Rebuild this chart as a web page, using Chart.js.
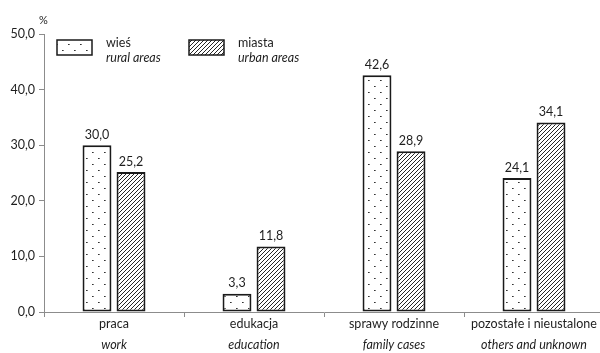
<!DOCTYPE html>
<html>
<head>
<meta charset="utf-8">
<script src="https://cdn.jsdelivr.net/npm/chart.js@4"></script>
<style>
  html, body { margin: 0; padding: 0; background: #fff; overflow: hidden; }
  #wrap { width: 600px; height: 353px; overflow: hidden; }
</style>
</head>
<body>
<div id="wrap"><canvas id="chart" width="604" height="353"></canvas></div>
<script>
const labelsPl = ["praca", "edukacja", "sprawy rodzinne", "pozostałe i nieustalone"];
const labelsEn = ["work", "education", "family cases", "others and unknown"];
const ruralVals = [30.0, 3.3, 42.6, 24.1];
const urbanVals = [25.2, 11.8, 28.9, 34.1];
const seriesPl = ["wieś", "miasta"];
const seriesEn = ["rural areas", "urban areas"];

const FONT = "Lato, 'Open Sans', sans-serif";
const axisGrey = "#8c8c8c";

function fmt(v){
    return v.toFixed(1).replace(".", ",");
}

// dotted fill for rural bars
function dotPattern(){
    const c = document.createElement("canvas");
    c.width = 12; c.height = 12;
    const x = c.getContext("2d");
    x.fillStyle = "#fff";
    x.fillRect(0, 0, 12, 12);
    x.fillStyle = "#333";
    x.fillRect(2, 2, 1, 1);
    x.fillRect(8, 8, 1, 1);
    x.fillStyle = "#777";
    x.fillRect(3, 2, 1, 1);
    x.fillRect(9, 8, 1, 1);
    return x.createPattern(c, "repeat");
}

// diagonal hatch for urban bars
function hatchPattern(){
    const c = document.createElement("canvas");
    c.width = 4; c.height = 4;
    const x = c.getContext("2d");
    x.fillStyle = "#fff";
    x.fillRect(0, 0, 4, 4);
    x.fillStyle = "#262626";
    x.fillRect(0, 3, 1, 1);
    x.fillRect(1, 2, 1, 1);
    x.fillRect(2, 1, 1, 1);
    x.fillRect(3, 0, 1, 1);
    return x.createPattern(c, "repeat");
}

const fills = [dotPattern(), hatchPattern()];

const extrasPlugin = {
    id: "extras",
    afterDatasetsDraw(chart){
        const ctx = chart.ctx;
        ctx.save();
        ctx.fillStyle = "#1e1e1e";
        ctx.font = "12.5px " + FONT;
        ctx.textAlign = "center";
        ctx.textBaseline = "bottom";
        chart.data.datasets.forEach((ds, di) => {
            const meta = chart.getDatasetMeta(di);
            meta.data.forEach((bar, i) => {
                ctx.fillText(fmt(ds.data[i]), bar.x, bar.y - 4);
            });
        });

        // category labels, two lines (second italic)
        const xs = chart.scales.x;
        const base = xs.bottom;
        ctx.textBaseline = "middle";
        labelsPl.forEach((t, i) => {
            const px = xs.getPixelForValue(i);
            ctx.font = "12.5px " + FONT;
            ctx.fillText(t, px, base + 7);
            ctx.font = "italic 12.5px " + FONT;
            ctx.fillText(labelsEn[i], px, base + 28);
        });

        // unit
        ctx.font = "11px " + FONT;
        ctx.textAlign = "left";
        ctx.fillText("%", 39, 20);

        // legend
        const boxes = [57, 189];
        boxes.forEach((bx, i) => {
            ctx.fillStyle = fills[i];
            ctx.fillRect(bx, 40, 35, 15);
            ctx.lineWidth = 1.5;
            ctx.strokeStyle = "#1a1a1a";
            ctx.strokeRect(bx, 40, 35, 15);
            ctx.fillStyle = "#1e1e1e";
            ctx.textAlign = "left";
            ctx.font = "12.5px " + FONT;
            ctx.fillText(seriesPl[i], bx + 49, 43);
            ctx.font = "italic 12.5px " + FONT;
            ctx.fillText(seriesEn[i], bx + 49, 58);
        });
        ctx.restore();
    }
};

new Chart(document.getElementById("chart").getContext("2d"), {
    type: "bar",
    data: {
        labels: labelsPl,
        datasets: [
            {
                label: seriesPl[0],
                data: ruralVals,
                backgroundColor: fills[0],
                borderColor: "#1a1a1a",
                borderWidth: 2,
                borderSkipped: false,
                barPercentage: 0.85,
                categoryPercentage: 0.486
            },
            {
                label: seriesPl[1],
                data: urbanVals,
                backgroundColor: fills[1],
                borderColor: "#1a1a1a",
                borderWidth: 2,
                borderSkipped: false,
                barPercentage: 0.85,
                categoryPercentage: 0.486
            }
        ]
    },
    options: {
        responsive: false,
        animation: false,
        layout: { padding: { top: 34, right: 0, bottom: 36, left: 0 } },
        plugins: {
            legend: { display: false },
            tooltip: { enabled: false }
        },
        scales: {
            x: {
                grid: {
                    display: true,
                    drawOnChartArea: false,
                    tickLength: 5,
                    color: axisGrey,
                    offset: true
                },
                border: { color: axisGrey, width: 1 },
                ticks: { display: false }
            },
            y: {
                min: 0,
                max: 50,
                afterFit(scale){ scale.width = 44; },
                grid: {
                    drawOnChartArea: false,
                    tickLength: 5,
                    color: axisGrey
                },
                border: { color: axisGrey, width: 1 },
                ticks: {
                    stepSize: 10,
                    padding: 4,
                    color: "#1e1e1e",
                    font: { family: FONT, size: 12.5 },
                    callback: v => fmt(v)
                }
            }
        }
    },
    plugins: [extrasPlugin]
});
</script>
</body>
</html>
